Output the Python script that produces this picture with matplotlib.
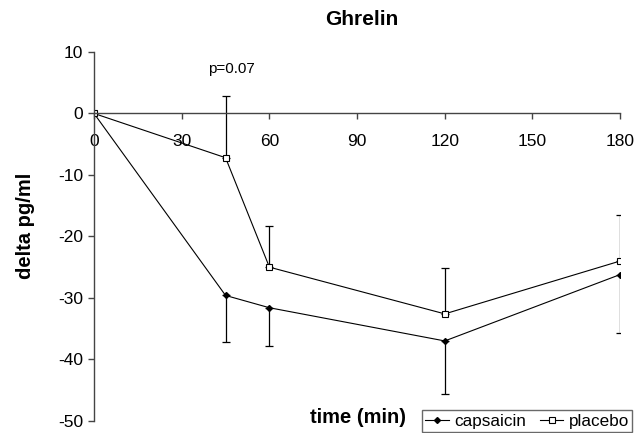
import matplotlib.pyplot as plt
import numpy as np

plt.rcParams['font.family'] = ['Liberation Sans', 'DejaVu Sans']
plt.rcParams['axes.unicode_minus'] = False

time_min = [0, 45, 60, 120, 180]
capsaicin = [0, -29.6, -31.6, -37.0, -26.2]
capsaicin_err = [0, 7.5, 6.3, 8.6, 9.5]
placebo = [0, -7.2, -25.0, -32.6, -24.0]
placebo_err = [0, 10.0, 6.7, 7.5, 7.5]

xticks = [0, 30, 60, 90, 120, 150, 180]
yticks = [10, 0, -10, -20, -30, -40, -50]

fig = plt.figure(figsize=(6.44, 4.33), dpi=100)
ax = fig.add_axes([0.146, 0.028, 0.817, 0.852])

# one-sided error bars: capsaicin down, placebo up
c_err = np.array(capsaicin_err)
p_err = np.array(placebo_err)
ax.errorbar(time_min[1:], capsaicin[1:], yerr=[c_err[1:], np.zeros(4)],
            fmt='none', ecolor='black', elinewidth=0.9, capsize=3, capthick=0.9)
ax.errorbar(time_min[1:], placebo[1:], yerr=[np.zeros(4), p_err[1:]],
            fmt='none', ecolor='black', elinewidth=0.9, capsize=3, capthick=0.9)

ax.plot(time_min, capsaicin, color='black', lw=0.8, marker='D', ms=3,
        mfc='black', mec='black', label='capsaicin')
ax.plot(time_min, placebo, color='black', lw=0.8, marker='s', ms=4,
        mfc='white', mec='black', mew=0.8, label='placebo')

ax.set_xlim(0, 180)
ax.set_ylim(-50, 10)
ax.set_xticks(xticks)
ax.set_yticks(yticks)

ax.spines['top'].set_visible(False)
ax.spines['right'].set_visible(False)
ax.spines['bottom'].set_position(('data', 0))
for s in ['left', 'bottom']:
    ax.spines[s].set_color('#444444')
    ax.spines[s].set_linewidth(1)
ax.tick_params(axis='both', direction='out', length=4, width=1, color='#444444',
               labelsize=12.5)
ax.tick_params(axis='x', pad=11)
ax.tick_params(axis='y', pad=4)

ax.text(47, 7.2, 'p=0.07', ha='center', va='center', fontsize=11)

fig.text(0.562, 0.954, 'Ghrelin', ha='center', va='center', fontsize=15, fontweight='bold')
fig.text(0.039, 0.478, 'delta pg/ml', ha='center', va='center', rotation=90,
         fontsize=14.5, fontweight='bold')
fig.text(0.556, 0.035, 'time (min)', ha='center', va='center', fontsize=14.5, fontweight='bold')

leg = ax.legend(loc='lower right', bbox_to_anchor=(1.023, -0.03), ncol=2, fontsize=12.3,
                frameon=True, fancybox=False, edgecolor='#444444', handlelength=1.4,
                handletextpad=0.3, columnspacing=0.8, borderpad=0.2, borderaxespad=0)
leg.get_frame().set_linewidth(1)

fig.savefig('out.png', dpi=100)
